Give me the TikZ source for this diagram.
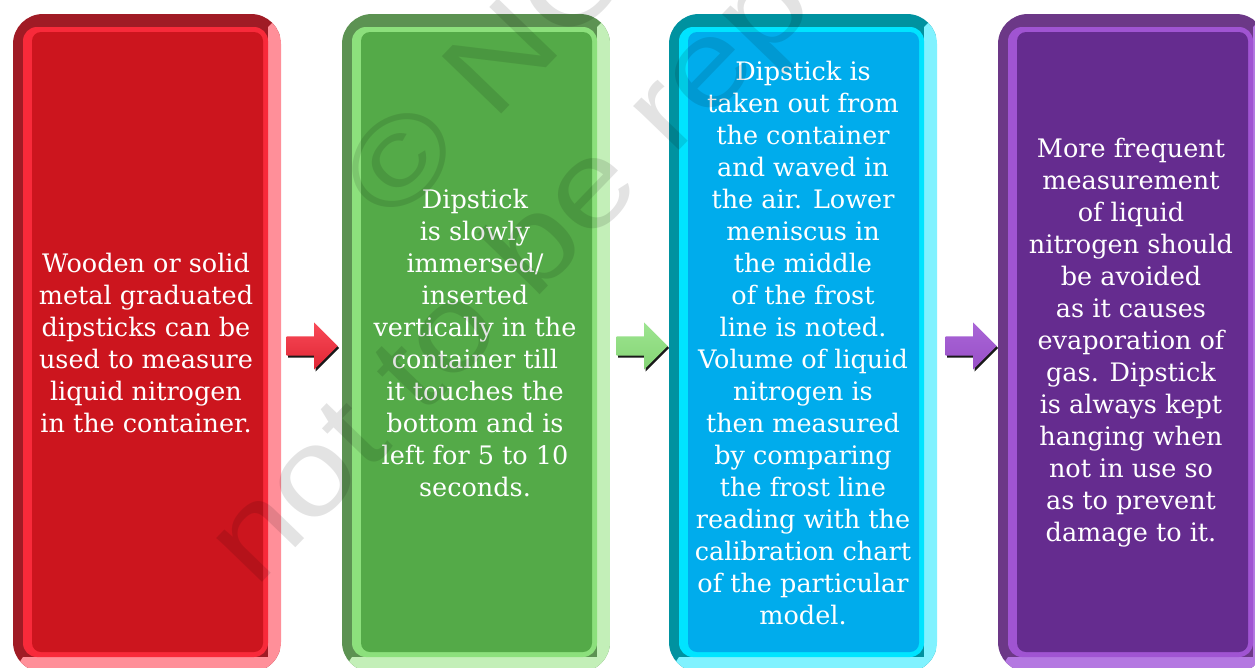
\documentclass[tikz,border=0pt]{standalone}
\usepackage{fontspec}
\setmainfont{DejaVu Serif}
\newfontfamily\wmfont{Liberation Sans}
\usepackage{tikz}
\usetikzlibrary{positioning,shapes.arrows,shadows}
\definecolor{redmain}{RGB}{204,21,30}
\definecolor{redring}{RGB}{248,42,58}
\definecolor{reddark}{RGB}{160,27,37}
\definecolor{redlight}{RGB}{255,143,153}
\definecolor{greenmain}{RGB}{84,170,72}
\definecolor{greenring}{RGB}{140,224,124}
\definecolor{greendark}{RGB}{92,146,82}
\definecolor{greenlight}{RGB}{195,239,184}
\definecolor{bluemain}{RGB}{0,172,236}
\definecolor{bluering}{RGB}{0,228,255}
\definecolor{bluedark}{RGB}{0,146,160}
\definecolor{bluelight}{RGB}{128,242,255}
\definecolor{purplemain}{RGB}{101,44,143}
\definecolor{purplering}{RGB}{160,84,210}
\definecolor{purpledark}{RGB}{108,56,135}
\definecolor{purplelight}{RGB}{180,120,225}

% bevelled panel: #1 = left edge, #2 = colour prefix
\newcommand{\bevelbox}[2]{%
  \begin{scope}
    \clip[rounded corners=30] (#1,14) rectangle (#1+268,672);
    \fill[#2dark] (#1,14) rectangle (#1+268,672);
    \fill[#2light] (#1+268,14) -- (#1+255,27) -- (#1+255,657) -- (#1+10,657)
      -- (#1,672) -- (#1+268,672) -- cycle;
  \end{scope}
  \fill[#2ring, rounded corners=14] (#1+10,27) rectangle (#1+255,657);
  \fill[#2main, rounded corners=9] (#1+19,32) rectangle (#1+250,652);
}

\begin{document}
\begin{tikzpicture}[x=1pt,y=-1pt,
  steptext/.style={align=center, text=white, font=\fontsize{25.5}{32}\selectfont, inner sep=0pt},
  flowarrow/.style={single arrow, anchor=tip, minimum height=51, minimum width=0pt,
    single arrow head extend=14pt, inner xsep=0pt, inner ysep=9.5pt,
    drop shadow={shadow xshift=1.5pt, shadow yshift=-2pt, fill=black, opacity=0.9}},
  watermark/.style={text=black, opacity=0.11, font=\wmfont\fontsize{120}{120}\selectfont,
    rotate=46, xscale=1.2, inner sep=0pt}]
\clip (0,0) rectangle (1255,667);

% the four panels, left to right
\bevelbox{13}{red}
\bevelbox{342}{green}
\bevelbox{669}{blue}
\bevelbox{998}{purple}

% panel texts
\node[steptext] (box1) at (146,343) {Wooden or solid\\metal graduated\\dipsticks can be\\used to measure\\liquid nitrogen\\in the container.};
\node[steptext] (box2) at (475,343) {Dipstick\\is slowly\\immersed/\\inserted\\vertically in the\\container till\\it touches the\\bottom and is\\left for 5 to 10\\seconds.};
\node[steptext] (box3) at (803,343) {Dipstick is\\taken out from\\the container\\and waved in\\the air. Lower\\meniscus in\\the middle\\of the frost\\line is noted.\\Volume of liquid\\nitrogen is\\then measured\\by comparing\\the frost line\\reading with the\\calibration chart\\of the particular\\model.};
\node[steptext] (box4) at (1131,343) {More frequent\\measurement\\of liquid\\nitrogen should\\be avoided\\as it causes\\evaporation of\\gas. Dipstick\\is always kept\\hanging when\\not in use so\\as to prevent\\damage to it.};

% arrows between the panels
\node[flowarrow, top color=redring!85!white, bottom color=redring!90!black] (arr1) at (338,346) {};
\node[flowarrow, top color=greenring!85!white, bottom color=greenring!95!black] (arr2) at (668,346) {};
\node[flowarrow, top color=purplering!90!white, bottom color=purplering!95!black] (arr3) at (997,346) {};

% watermark
\node[watermark, anchor=base west] (wm1) at (392,228) {\textcopyright\ NCERT};
\node[watermark, anchor=base west] (wm2) at (255,590) {not to be republished};
\end{tikzpicture}
\end{document}
